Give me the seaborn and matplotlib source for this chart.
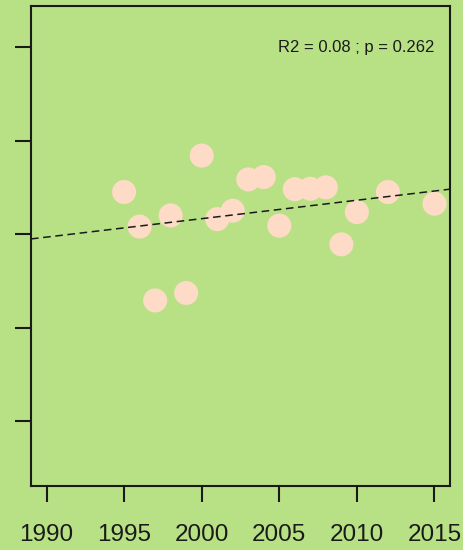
import matplotlib
matplotlib.use('Agg')

import matplotlib.pyplot as plt
import seaborn as sns
import numpy as np
import pandas as pd

# 数据（从图中读取，y 轴刻度标签不可见，使用相对单位）
YEARS = [1995, 1996, 1997, 1998, 1999, 2000, 2001, 2002, 2003, 2004,
         2005, 2006, 2007, 2008, 2009, 2010, 2012, 2015]
VALUES = [34.5, 30.8, 22.9, 32.0, 23.7, 38.4, 31.6, 32.5, 35.85, 36.1,
          30.9, 34.8, 34.85, 35.0, 28.9, 32.35, 34.5, 33.25]
X_TICKS = [1990, 1995, 2000, 2005, 2010, 2015]
Y_TICKS = [10, 20, 30, 40, 50]
ANNOT = "R2 = 0.08 ; p = 0.262"

BG = '#b8e186'
PT = '#fddbc7'

sns.set_theme(style="ticks")
plt.rcParams['font.family'] = ['Liberation Sans', 'DejaVu Sans']
plt.rcParams['axes.linewidth'] = 1.5
plt.rcParams['xtick.major.width'] = 1.5
plt.rcParams['ytick.major.width'] = 1.5
plt.rcParams['xtick.major.size'] = 11.5
plt.rcParams['ytick.major.size'] = 11.5

df = pd.DataFrame({'year': YEARS, 'value': VALUES})

fig = plt.figure(figsize=(4.64, 5.5), dpi=100, facecolor=BG)
ax = fig.add_axes([31 / 464, 1 - 486 / 550, 419 / 464, 480 / 550])
ax.set_facecolor(BG)

sns.scatterplot(data=df, x='year', y='value', ax=ax, s=300, color=PT,
                edgecolor='none', linewidth=0, zorder=2)

slope, intercept = np.polyfit(df['year'], df['value'], 1)
ax.axline((2000, intercept + slope * 2000), slope=slope, color='#1a1a1a',
          lw=1.1, linestyle=(0, (5, 3)), zorder=3)

ax.text(2015, 50, ANNOT, ha='right', va='center', fontsize=12, color='#1a1a1a')

ax.set_xlim(1989, 2016)
ax.set_ylim(3.05, 54.4)
ax.set_xticks(X_TICKS)
ax.set_xticklabels([str(t) for t in X_TICKS], fontsize=17.5, color='#1a1a1a')
ax.set_yticks(Y_TICKS)
ax.set_yticklabels([])
ax.tick_params(axis='x', pad=16, colors='#1a1a1a')
ax.tick_params(axis='y', colors='#1a1a1a')
ax.set_xlabel('')
ax.set_ylabel('')
for sp in ax.spines.values():
    sp.set_visible(True)
    sp.set_color('#1a1a1a')

fig.savefig('out.png', dpi=100, facecolor=BG)
